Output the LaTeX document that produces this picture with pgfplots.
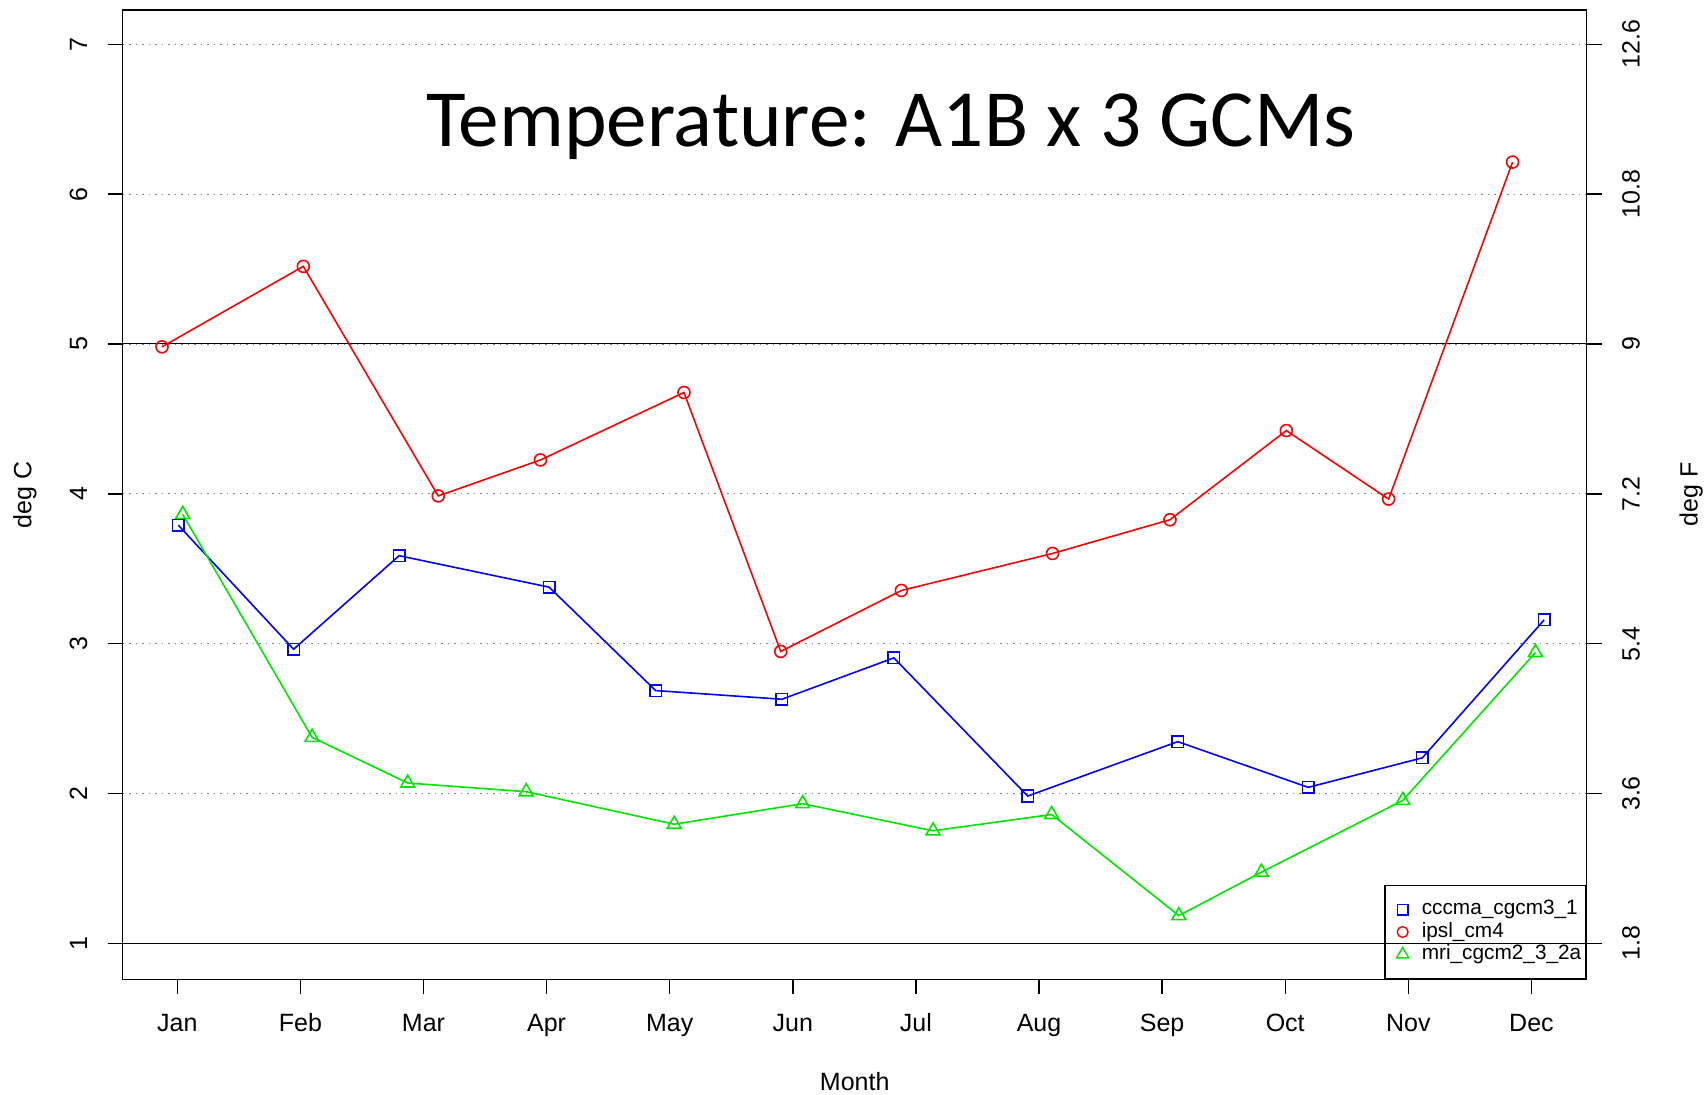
\documentclass[border=0pt]{standalone}
\usepackage{pgfplots}
\pgfplotsset{compat=1.18}
\usepackage{fontspec}
\setmainfont{Liberation Sans}
\newfontfamily\titlefont{Carlito}
\definecolor{rblue}{RGB}{0,0,255}
\definecolor{rred}{RGB}{255,0,0}
\definecolor{rgreen}{RGB}{0,230,0}
\begin{document}
\begin{tikzpicture}
\begin{axis}[
  scale only axis, width=732pt, height=484.65pt,
  at={(0,0)}, anchor=south west,
  xmin=0.5565, xmax=12.449, ymin=0.760, ymax=7.229,
  axis line style={line width=0.7pt},
  xtick={1,...,12},
  xticklabels={Jan,Feb,Mar,Apr,May,Jun,Jul,Aug,Sep,Oct,Nov,Dec},
  ytick={1,...,7},
  xtick pos=bottom, ytick pos=left,
  tick align=outside, major tick length=7.5pt,
  tick style={line width=0.7pt, black},
  /pgf/number format/assume math mode=true,
  tick label style={font=\fontsize{12.5}{14}\selectfont},
  xticklabel style={anchor=base, inner sep=0pt},
  xticklabel shift=18.8pt,
  yticklabel style={rotate=90, anchor=base, inner sep=0pt},
  yticklabel shift=10.3pt,
  ymajorgrids,
  major grid style={gray, line width=0.6pt, dash pattern=on 0.7pt off 2.55pt},
  extra y ticks={1,5}, extra y tick labels={},
  extra y tick style={grid=major, major grid style={black, solid, line width=0.5pt}},
  xlabel={Month}, ylabel={deg C},
  label style={font=\fontsize{12.5}{14}\selectfont},
  xlabel style={at={(axis description cs:0.5,0)}, anchor=base, yshift=-55.7pt, inner sep=0pt},
  ylabel style={at={(axis description cs:0,0.5)}, anchor=base, rotate=0, yshift=45.6pt, inner sep=0pt},
  legend image code/.code={\path (0pt,0pt) (15.35pt,0pt); \draw[#1] plot[only marks] coordinates {(6.15pt,0pt)};},
  legend style={at={(1,0)}, anchor=south east, draw=black, line width=0.7pt, fill=none,
    inner xsep=2.35pt, inner ysep=6.5pt, row sep=0pt, column sep=0pt,
    font=\fontsize{10.4}{12}\selectfont,
    nodes={inner xsep=0pt, inner ysep=0.6pt, text height=7.5pt, text depth=2.5pt}},
  legend cell align=left,
  every axis plot/.append style={line width=0.8pt},
]
\addplot[rblue, mark=square, mark size=2.9pt, forget plot] coordinates {
(1.008,3.791)(1.945,2.963)(2.802,3.587)(4.021,3.377)(4.886,2.687)(5.911,2.629)
(6.821,2.905)(7.908,1.983)(9.127,2.346)(10.187,2.041)(11.114,2.238)(12.104,3.159)};
\addplot[rred, mark=o, mark size=3pt, forget plot] coordinates {
(0.876,4.981)(2.024,5.518)(3.120,3.986)(3.950,4.226)(5.116,4.676)(5.902,2.948)
(6.882,3.355)(8.110,3.602)(9.064,3.827)(10.009,4.422)(10.840,3.965)(11.847,6.214)};
\addplot[rgreen, mark=triangle, mark size=4.0pt, forget plot] coordinates {
(1.044,3.863)(2.095,2.375)(2.872,2.070)(3.835,2.012)(5.037,1.795)(6.080,1.932)
(7.140,1.751)(8.103,1.860)(9.136,1.185)(9.807,1.475)(10.955,1.954)(12.033,2.941)};
\addlegendimage{rblue, mark=square, mark size=2.6pt, line width=0.7pt}
\addlegendentry{cccma\_cgcm3\_1}
\addlegendimage{rred, mark=o, mark size=2.7pt, line width=0.7pt}
\addlegendentry{ipsl\_cm4}
\addlegendimage{rgreen, mark=triangle, mark size=3.5pt, line width=0.7pt}
\addlegendentry{mri\_cgcm2\_3\_2a}
\node[font=\titlefont\fontsize{40.6}{48}\selectfont, anchor=base] at (rel axis cs:0.5247,0.8589) {Temperature: A1B x 3 GCMs};
\node[font=\bfseries\fontsize{12.5}{14}\selectfont, anchor=base, inner sep=0pt] at (rel axis cs:0.5,1) [yshift=2.5pt] {Storyline: A1B};
\end{axis}
\begin{axis}[
  scale only axis, width=732pt, height=484.65pt,
  at={(0,0)}, anchor=south west,
  xmin=0.5565, xmax=12.449, ymin=1.368, ymax=13.0122,
  axis x line=none, axis y line*=right,
  axis line style={line width=0.7pt, -},
  ytick={1.8,3.6,5.4,7.2,9,10.8,12.6},
  yticklabels={1.8,3.6,5.4,7.2,9,10.8,12.6},
  tick align=outside, major tick length=7.5pt,
  tick style={line width=0.7pt, black},
  tick label style={font=\fontsize{12.5}{14}\selectfont},
  yticklabel style={rotate=90, anchor=base, inner sep=0pt},
  yticklabel shift=19pt,
  ylabel={deg F},
  label style={font=\fontsize{12.5}{14}\selectfont},
  ylabel style={at={(axis description cs:1,0.5)}, anchor=base, rotate=0, yshift=-55.4pt, inner sep=0pt},
]
\end{axis}
\pgfresetboundingbox
\path[use as bounding box] (-61.35pt,-57.35pt) rectangle (791.15pt,489.65pt);
\end{tikzpicture}
\end{document}
